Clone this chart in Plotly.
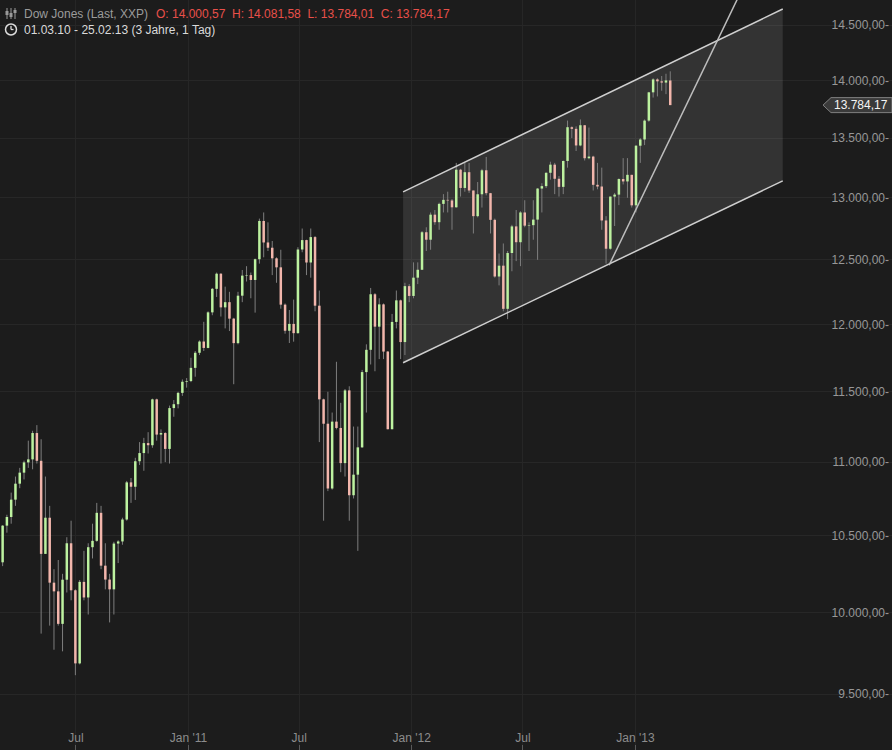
import math
import pandas as pd
import plotly.graph_objects as go

# ---------------- data (weekly OHLC) ----------------
opens = [10325, 10567, 10625, 10742, 10851, 10927, 10998, 11019, 11204, 11009, 10380, 10620, 10193, 10137, 9931, 10212, 10450, 10144, 9686, 10198, 10098, 10424, 10466, 10653, 10303, 10213, 10150, 10448, 10462, 10608, 10860, 10830, 11006, 11063, 11133, 11118, 11445, 11193, 11204, 11092, 11382, 11410, 11492, 11573,
         11578, 11675, 11787, 11871, 11823, 12092, 12273, 12391, 12130, 12170, 12044, 11859, 12220, 12376, 12380, 12342, 12505, 12811, 12638, 12596, 12512, 12441, 12151, 11952, 12004, 11934, 12582, 12657, 12479, 12681, 12143, 11445, 11270, 10818, 11285, 11240, 10993, 11510, 10772, 10913, 11103, 11644, 11809, 12231, 11983, 12153, 11796, 11231, 12019, 12184, 11867, 12294,
         12218, 12360, 12422, 12720, 12660, 12862, 12801, 12950, 12983, 12978, 12922, 13233, 13081, 13212, 13060, 12850, 13029, 13228, 13038, 12820, 12369, 12454, 12119, 12554, 12767, 12640, 12880, 12773, 12777, 12822, 13076, 13096, 13207, 13275, 13157, 13090, 13306, 13593, 13579, 13437, 13610, 13329, 13343, 13107, 13093, 12815, 12588, 13010, 13026, 13155, 13135, 13190, 12938,
         13435, 13488, 13650, 13896, 14010, 13993, 13982, 14000.57]
highs = [10570, 10640, 10790, 10900, 10960, 11010, 11150, 11220, 11260, 11160, 10900, 10700, 10280, 10340, 10250, 10490, 10600, 10150, 10210, 10400, 10450, 10580, 10720, 10700, 10450, 10250, 10460, 10470, 10620, 10870, 10890, 11030, 11140, 11170, 11210, 11450, 11450, 11230, 11210, 11400, 11440, 11500, 11590, 11600,
         11750, 11800, 11880, 12020, 12100, 12280, 12400, 12395, 12290, 12250, 12050, 12250, 12420, 12450, 12400, 12510, 12830, 12880, 12800, 12650, 12520, 12580, 12160, 12110, 12190, 12600, 12750, 12660, 12750, 12690, 12260, 11450, 11500, 11350, 11720, 11420, 11520, 11540, 11250, 11250, 11660, 11850, 12280, 12240, 12200, 12160, 11800, 12080, 12260, 12190, 12320, 12310,
         12480, 12480, 12730, 12760, 12880, 12900, 12960, 13030, 13050, 12990, 13290, 13240, 13290, 13290, 13060, 13130, 13240, 13340, 13040, 12830, 12550, 12630, 12570, 12780, 12900, 12890, 12980, 12800, 12980, 13080, 13120, 13210, 13300, 13290, 13180, 13310, 13650, 13600, 13600, 13660, 13610, 13590, 13350, 13290, 13250, 12850, 13010, 13040, 13160, 13330, 13330, 13190, 13440,
         13500, 13660, 13900, 14020, 14020, 14040, 14060, 14081.58]
lows = [10300, 10520, 10580, 10700, 10820, 10880, 10960, 10950, 10990, 9870, 10380, 9920, 9770, 9920, 9760, 10130, 10080, 9614, 9680, 10080, 9990, 10350, 10460, 10280, 10150, 9940, 9990, 10320, 10440, 10600, 10720, 10740, 10980, 10940, 11060, 11100, 11150, 10990, 11000, 10990, 11320, 11380, 11470, 11530,
        11570, 11610, 11770, 11800, 11820, 12070, 12210, 12060, 11970, 11950, 11555, 11850, 12170, 12330, 12200, 12090, 12470, 12520, 12570, 12380, 12320, 12120, 11930, 11860, 11870, 11930, 12560, 12380, 12360, 12100, 11140, 10600, 10800, 10810, 11230, 10930, 10900, 10600, 10750, 10400, 11100, 11350, 11700, 11650, 11740, 11740, 11230, 11230, 11970, 11740, 11770, 12170,
        12200, 12310, 12420, 12570, 12580, 12780, 12740, 12880, 12880, 12740, 12920, 13010, 13050, 13040, 12710, 12840, 12920, 13020, 12710, 12360, 12300, 12100, 12040, 12410, 12490, 12450, 12760, 12570, 12660, 12500, 12880, 13080, 13150, 13030, 13010, 13030, 13250, 13500, 13390, 13430, 13310, 13320, 13060, 13070, 12740, 12470, 12580, 12770, 12940, 13110, 13000, 12920, 12880,
        13290, 13440, 13640, 13850, 13860, 13910, 13880, 13784.01]
closes = [10567, 10625, 10742, 10851, 10927, 10998, 11019, 11204, 11009, 10380, 10620, 10193, 10137, 9931, 10212, 10450, 10144, 9686, 10198, 10098, 10424, 10466, 10653, 10303, 10213, 10150, 10448, 10462, 10608, 10860, 10830, 11006, 11063, 11133, 11118, 11445, 11193, 11204, 11092, 11382, 11410, 11492, 11573, 11578,
          11675, 11787, 11871, 11823, 12092, 12273, 12391, 12130, 12170, 12044, 11859, 12220, 12376, 12380, 12342, 12505, 12811, 12638, 12596, 12512, 12441, 12151, 11952, 12004, 11934, 12582, 12657, 12479, 12681, 12143, 11445, 11270, 10818, 11285, 11240, 10993, 11510, 10772, 10913, 11103, 11644, 11809, 12231, 11983, 12153, 11796, 11231, 12019, 12184, 11867, 12294, 12218,
          12360, 12422, 12720, 12660, 12862, 12801, 12950, 12983, 12978, 12922, 13233, 13081, 13212, 13060, 12850, 13029, 13228, 13038, 12820, 12369, 12454, 12119, 12554, 12767, 12640, 12880, 12773, 12777, 12822, 13076, 13096, 13207, 13275, 13157, 13090, 13306, 13593, 13579, 13437, 13610, 13329, 13343, 13107, 13093, 12815, 12588, 13010, 13026, 13155, 13135, 13190, 12938, 13435,
          13488, 13650, 13896, 14010, 13993, 13982, 14001, 13784.17]
week_dates = pd.date_range("2010-03-03", periods=len(closes), freq="7D")

# trend channel drawn on the chart
channel_dates = ["2011-12-18", "2013-08-30"]
channel_upper = [13049, 14647]
channel_lower = [11713, 13140]
trend_dates = ["2012-11-19", "2013-07-24"]
trend_values = [12458, 15186]

last_price = 13784.17
last_label = "13.784,17"

y_tick_values = [9500, 10000, 10500, 11000, 11500, 12000, 12500, 13000, 13500, 14000, 14500]
y_tick_labels = ["9.500,00-", "10.000,00-", "10.500,00-", "11.000,00-", "11.500,00-", "12.000,00-",
                 "12.500,00-", "13.000,00-", "13.500,00-", "14.000,00-", "14.500,00-"]
x_tick_values = ["2010-07-01", "2011-01-01", "2011-07-01", "2012-01-01", "2012-07-01", "2013-01-01"]
x_tick_labels = ["Jul", "Jan '11", "Jul", "Jan '12", "Jul", "Jan '13"]

# ---------------- figure ----------------
W, H = 892, 750
BG = "#1c1c1c"
FONT = "Liberation Sans, Arial, sans-serif"

wick_x, wick_y, up_x, up_y, dn_x, dn_y = [], [], [], [], [], []
for d, o, h, l, c in zip(week_dates, opens, highs, lows, closes):
    wick_x += [d, d, None]
    wick_y += [l, h, None]
    if c >= o:
        up_x += [d, d, None]
        up_y += [o, c, None]
    else:
        dn_x += [d, d, None]
        dn_y += [o, c, None]

fig = go.Figure()
# channel fill
fig.add_trace(go.Scatter(
    x=[channel_dates[0], channel_dates[1], channel_dates[1], channel_dates[0]],
    y=[channel_upper[0], channel_upper[1], channel_lower[1], channel_lower[0]],
    fill="toself", fillcolor="rgba(255,255,255,0.10)", mode="lines",
    line=dict(width=0), hoverinfo="skip", showlegend=False))
# candles
fig.add_trace(go.Scatter(x=wick_x, y=wick_y, mode="lines",
                         line=dict(color="#7e7e7e", width=1), hoverinfo="skip", showlegend=False))
fig.add_trace(go.Scatter(x=up_x, y=up_y, mode="lines",
                         line=dict(color="#bdf2a0", width=2.5), hoverinfo="skip", showlegend=False))
fig.add_trace(go.Scatter(x=dn_x, y=dn_y, mode="lines",
                         line=dict(color="#f2b6ac", width=2.5), hoverinfo="skip", showlegend=False))
# channel lines
for yy in (channel_upper, channel_lower):
    fig.add_trace(go.Scatter(x=channel_dates, y=yy, mode="lines",
                             line=dict(color="#cfcfcf", width=1.5), hoverinfo="skip", showlegend=False))
fig.add_trace(go.Scatter(x=trend_dates, y=trend_values, mode="lines",
                         line=dict(color="#bdbdbd", width=1.5), hoverinfo="skip", showlegend=False))

def px(x):
    return x / W

def py(y):
    return 1 - y / H

shapes = []
# price marker box (pointed on the left)
shapes.append(dict(type="path", xref="paper", yref="y", xsizemode="pixel", ysizemode="pixel",
                   xanchor=1, yanchor=last_price,
                   path="M-69,0 L-61,7.5 L0,7.5 L0,-7.5 L-61,-7.5 Z",
                   fillcolor="#3a3a3a", line=dict(color="#808080", width=1)))
# candle icon
icon_c = "#9a9a9a"
for cx, b0, b1 in [(7, 11, 15), (11, 13, 17), (15, 10, 13)]:
    shapes.append(dict(type="line", xref="paper", yref="paper", x0=px(cx), x1=px(cx), y0=py(8), y1=py(19),
                       line=dict(color=icon_c, width=1)))
    shapes.append(dict(type="rect", xref="paper", yref="paper", x0=px(cx - 1.5), x1=px(cx + 1.5),
                       y0=py(b0), y1=py(b1), fillcolor=icon_c, line=dict(width=0)))
# clock icon
shapes.append(dict(type="circle", xref="paper", yref="paper", x0=px(5.5), x1=px(16.5), y0=py(24), y1=py(35),
                   line=dict(color="#dcdcdc", width=1.5)))
shapes.append(dict(type="line", xref="paper", yref="paper", x0=px(11), x1=px(11), y0=py(29.5), y1=py(26),
                   line=dict(color="#dcdcdc", width=1.3)))
shapes.append(dict(type="line", xref="paper", yref="paper", x0=px(11), x1=px(13.5), y0=py(29.5), y1=py(29.5),
                   line=dict(color="#dcdcdc", width=1.3)))

annotations = [
    dict(text="Dow Jones (Last, XXP)", xref="paper", yref="paper", x=px(22), y=py(13.5),
         xanchor="left", yanchor="middle", showarrow=False, font=dict(family=FONT, size=12, color="#9b9b9b")),
    dict(text="O: 14.000,57\u00a0\u00a0H: 14.081,58\u00a0\u00a0L: 13.784,01\u00a0\u00a0C: 13.784,17",
         xref="paper", yref="paper", x=px(154), y=py(13.5),
         xanchor="left", yanchor="middle", showarrow=False, font=dict(family=FONT, size=12, color="#e8504a")),
    dict(text="01.03.10 - 25.02.13 (3 Jahre, 1 Tag)", xref="paper", yref="paper", x=px(22), y=py(29.5),
         xanchor="left", yanchor="middle", showarrow=False, font=dict(family=FONT, size=12, color="#dadada")),
    dict(text=last_label, xref="paper", yref="y", x=1, y=math.log10(last_price), xshift=-2,
         xanchor="right", yanchor="middle", showarrow=False, font=dict(family=FONT, size=12, color="#f4f4f4")),
]

fig.update_layout(
    width=W, height=H, margin=dict(l=0, r=0, t=0, b=0),
    paper_bgcolor=BG, plot_bgcolor=BG, showlegend=False,
    font=dict(family=FONT, size=12, color="#8c8c8c"),
    shapes=shapes, annotations=annotations,
    xaxis=dict(type="date", range=["2010-02-26 17:00", "2014-02-24 17:00"],
               tickvals=x_tick_values, ticktext=x_tick_labels,
               ticklabelposition="inside", ticks="inside", ticklen=5, tickcolor="#5a5a5a",
               showgrid=True, gridcolor="#262626", gridwidth=1, zeroline=False, showline=False,
               tickfont=dict(family=FONT, size=12, color="#8c8c8c")),
    yaxis=dict(type="log", range=[math.log10(9170), math.log10(14731)], side="right",
               tickvals=y_tick_values, ticktext=y_tick_labels,
               ticklabelposition="inside", ticks="",
               showgrid=True, gridcolor="#272727", gridwidth=1, zeroline=False, showline=False,
               tickfont=dict(family=FONT, size=12, color="#979797")),
)

fig.write_html("out.html", config={"displayModeBar": False},
               post_script="document.body.style.margin='0px';document.body.style.background='#1c1c1c';")
